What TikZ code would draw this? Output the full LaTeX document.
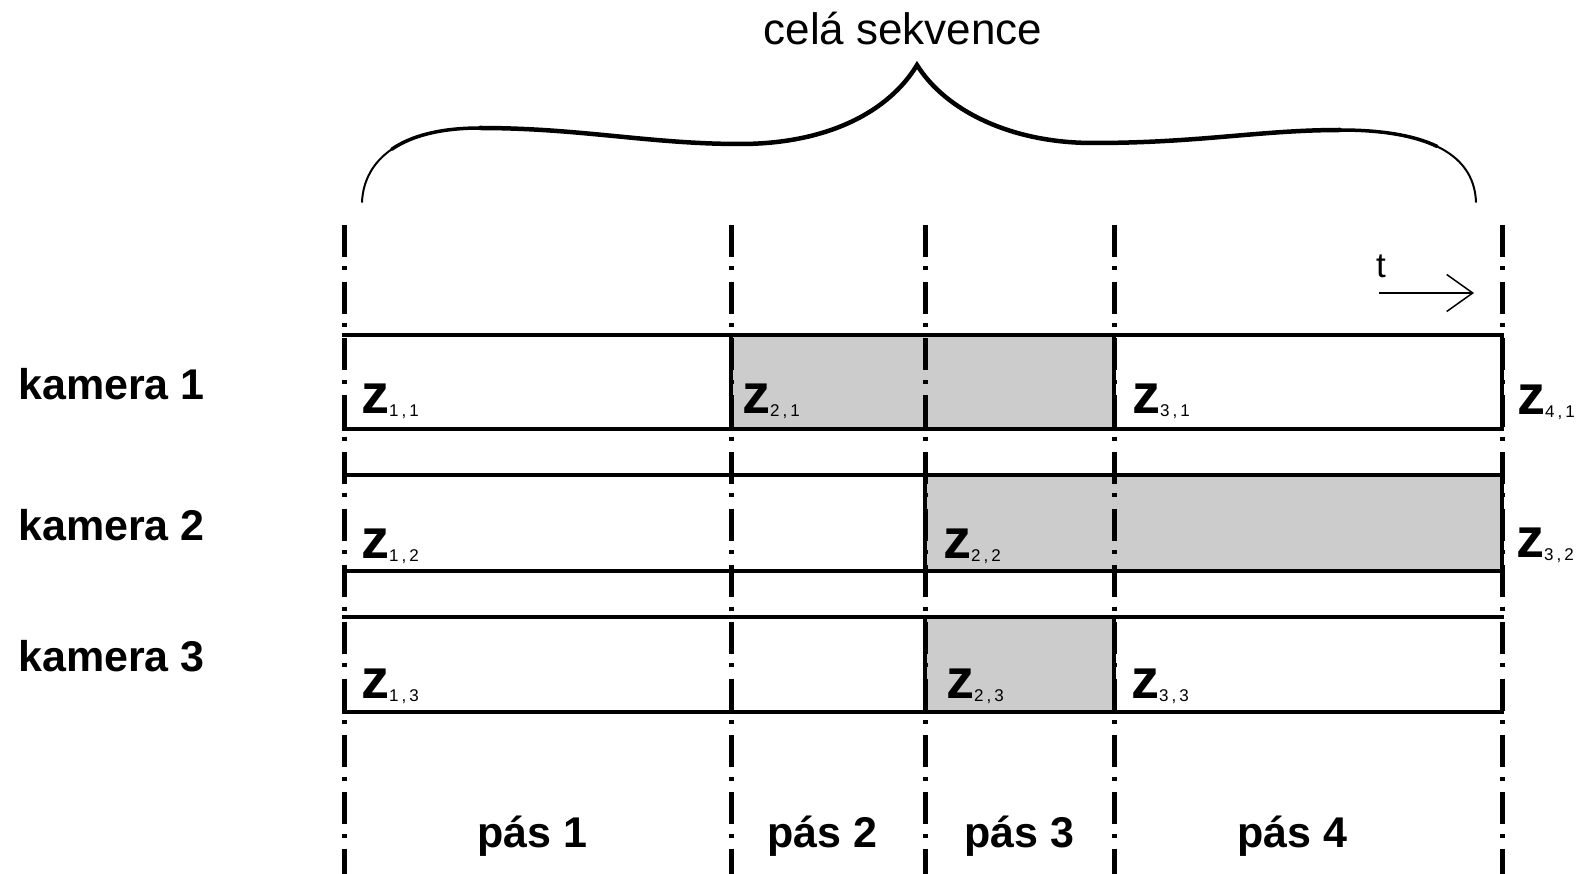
\documentclass[tikz,border=0pt]{standalone}
\usepackage{fontspec}
\setmainfont{Liberation Sans}
\usetikzlibrary{arrows.meta}
\definecolor{cellgray}{HTML}{CCCCCC}
\newcommand{\zlab}[2]{{\fontsize{56}{56}\selectfont\bfseries z}\raisebox{-3pt}{\fontsize{17}{17}\selectfont #1\kern3pt,\kern3pt#2}}
\tikzset{
  cell/.style={inner sep=0pt, outer sep=0pt, draw=none, anchor=north west},
  graycell/.style={cell, fill=cellgray},
  whitecell/.style={cell, fill=white},
  rowline/.style={line width=3.5pt, line cap=rect},
  sepline/.style={line width=5pt, dash pattern=on 32pt off 9.5pt on 4pt off 11.2pt},
  zlabel/.style={inner sep=0pt, anchor=base west},
  boldtext/.style={inner sep=0pt, font=\fontsize{43}{43}\selectfont\bfseries},
  bracemain/.style={line width=4.5pt, line join=miter, line cap=round},
  bracemid/.style={line width=3.5pt, line cap=round},
  braceend/.style={line width=2pt, line cap=round},
}
\begin{document}
\begin{tikzpicture}[x=1pt, y=-1pt]
\useasboundingbox (0,0) rectangle (1583,874);

% cells
\node[whitecell, minimum width=387pt, minimum height=94pt] (c11) at (344,335) {};
\node[graycell,  minimum width=383pt, minimum height=94pt] (c21) at (731,335) {};
\node[whitecell, minimum width=388pt, minimum height=94pt] (c31) at (1114,335) {};
\node[whitecell, minimum width=581pt, minimum height=96pt] (c12) at (344,475) {};
\node[graycell,  minimum width=577pt, minimum height=96pt] (c22) at (925,475) {};
\node[whitecell, minimum width=581pt, minimum height=95pt] (c13) at (344,617) {};
\node[graycell,  minimum width=189pt, minimum height=95pt] (c23) at (925,617) {};
\node[whitecell, minimum width=388pt, minimum height=95pt] (c33) at (1114,617) {};

% row borders
\draw[rowline] (c11.north west) -- (c31.north east);
\draw[rowline] (c11.south west) -- (c31.south east);
\draw[rowline] (c12.north west) -- (c22.north east);
\draw[rowline] (c12.south west) -- (c22.south east);
\draw[rowline] (c13.north west) -- (c33.north east);
\draw[rowline] (c13.south west) -- (c33.south east);
\draw[rowline] (c21.north west) -- (c21.south west);
\draw[rowline] (c31.north west) -- (c31.south west);
\draw[rowline] (c31.north east) -- (c31.south east);
\draw[rowline] (c22.north west) -- (c22.south west);
\draw[rowline] (c22.north east) -- (c22.south east);
\draw[rowline] (c23.north west) -- (c23.south west);
\draw[rowline] (c33.north west) -- (c33.south west);

% separators
\coordinate (v1t) at (344,225);  \coordinate (v1b) at (344,880);
\coordinate (v2t) at (731,225);  \coordinate (v2b) at (731,880);
\coordinate (v3t) at (925,225);  \coordinate (v3b) at (925,880);
\coordinate (v4t) at (1114,225); \coordinate (v4b) at (1114,880);
\coordinate (v5t) at (1502,225); \coordinate (v5b) at (1502,880);
\draw[sepline] (v1t) -- (v1b);
\draw[sepline] (v2t) -- (v2b);
\draw[sepline] (v3t) -- (v3b);
\draw[sepline] (v4t) -- (v4b);
\draw[sepline] (v5t) -- (v5b);

% z labels
\node[zlabel] (z11) at (361,414) {\zlab{1}{1}};
\node[zlabel] (z21) at (742,414) {\zlab{2}{1}};
\node[zlabel] (z31) at (1132,414) {\zlab{3}{1}};
\node[zlabel] (z41) at (1517,415) {\zlab{4}{1}};
\node[zlabel] (z12) at (361,558) {\zlab{1}{2}};
\node[zlabel] (z22) at (943,558) {\zlab{2}{2}};
\node[zlabel] (z32) at (1516,557) {\zlab{3}{2}};
\node[zlabel] (z13) at (361,698) {\zlab{1}{3}};
\node[zlabel] (z23) at (946,698) {\zlab{2}{3}};
\node[zlabel] (z33) at (1131,698) {\zlab{3}{3}};

% camera labels
\node[boldtext, anchor=base west] (k1) at (18,400) {kamera 1};
\node[boldtext, anchor=base west] (k2) at (18,540) {kamera 2};
\node[boldtext, anchor=base west] (k3) at (18,671) {kamera 3};

% band labels
\node[boldtext, anchor=base] (p1) at (532,847) {pás 1};
\node[boldtext, anchor=base] (p2) at (822,847) {pás 2};
\node[boldtext, anchor=base] (p3) at (1019,847) {pás 3};
\node[boldtext, anchor=base] (p4) at (1292,847) {pás 4};

% time arrow
\node[inner sep=0pt, anchor=base west, font=\fontsize{35}{35}\selectfont] (tlab) at (1376,278) {t};
\coordinate (tstart) at (1379,293);
\coordinate (tend) at (1474,293);
\draw[line width=2pt, -{Straight Barb[length=26pt, width=37pt, line width=1.5pt]}] (tstart) -- (tend);

% brace and title
\node[inner sep=0pt, anchor=base, font=\fontsize{44}{44}\selectfont] (title) at (903,45) {celá sekvence};
\draw[braceend] (362,202) .. controls (363,181) and (372.5,162.5) .. (391.75,149.25);
\draw[bracemid] (391.75,149.25) .. controls (411,136) and (440,128) .. (480,128);
\draw[bracemid] (1340,130) .. controls (1380,130) and (1413.5,135) .. (1437.25,146.5);
\draw[braceend] (1437.25,146.5) .. controls (1461,158) and (1475,176) .. (1476,202);
\draw[bracemain] (480,128)
  .. controls (580,128) and (650,144) .. (740,144)
  .. controls (830,144) and (890,110) .. (917,65)
  .. controls (945,110) and (1010,143) .. (1093,143)
  .. controls (1200,143) and (1260,130) .. (1340,130);
\end{tikzpicture}
\end{document}
